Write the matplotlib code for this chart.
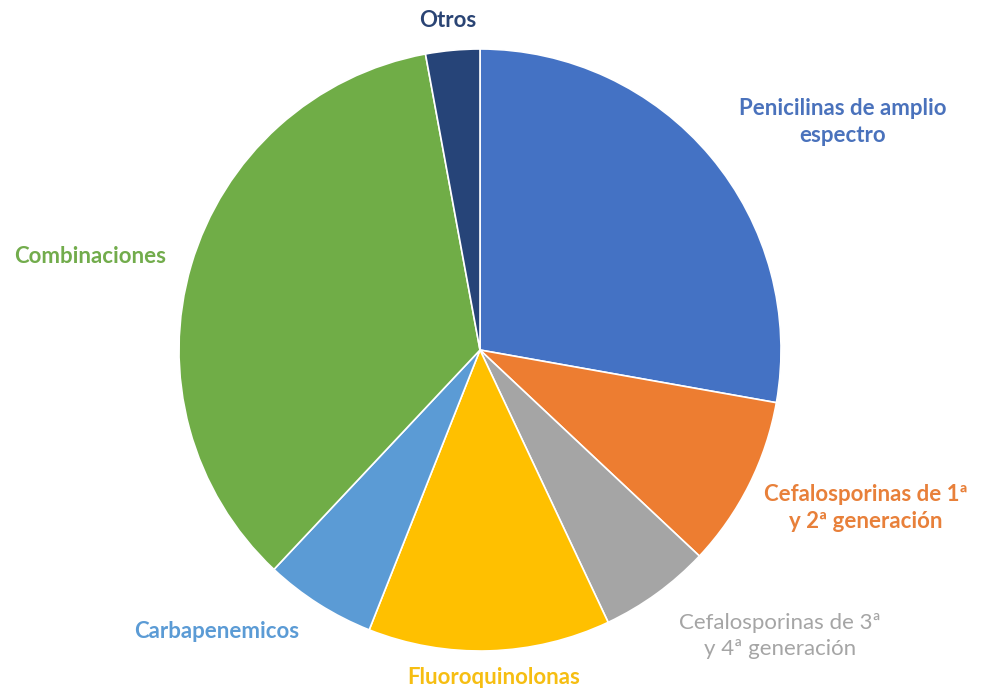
import matplotlib
matplotlib.use("Agg")
import matplotlib.pyplot as plt

categories = ["Penicilinas de amplio\nespectro",
              "Cefalosporinas de 1ª\ny 2ª generación",
              "Cefalosporinas de 3ª\ny 4ª generación",
              "Fluoroquinolonas",
              "Carbapenemicos",
              "Combinaciones",
              "Otros"]
values = [27.8, 9.2, 6.0, 13.0, 6.0, 35.1, 2.9]
colors = ["#4472C4", "#ED7D31", "#A5A5A5", "#FFC000", "#5B9BD5", "#70AD47", "#264478"]
text_colors = ["#4A72BC", "#E8803A", "#A5A5A5", "#F6BE12", "#5B9BD5", "#72AC4C", "#2A4474"]
weights = ["bold", "bold", "normal", "bold", "bold", "bold", "bold"]
label_pos = [(843, 122), (866, 508), (780, 636), (494, 677), (217, 632), (90, 256), (448, 20)]

W, H = 984, 691
fig = plt.figure(figsize=(W / 100, H / 100), dpi=100)
ax = fig.add_axes([0, 0, 1, 1])
ax.set_xlim(0, W)
ax.set_ylim(0, H)
ax.set_aspect("equal")
ax.axis("off")

ax.pie(values, colors=colors, startangle=90, counterclock=False,
       center=(480, H - 350), radius=301,
       wedgeprops=dict(edgecolor="white", linewidth=1.2))
ax.set_xlim(0, W)
ax.set_ylim(0, H)

for lab, c, w, (x, y) in zip(categories, text_colors, weights, label_pos):
    ax.text(x, H - y, lab, color=c, fontweight=w, fontsize=16, family="Lato",
            ha="center", va="center", linespacing=1.38)

fig.savefig("out.png", dpi=100, facecolor="white")
